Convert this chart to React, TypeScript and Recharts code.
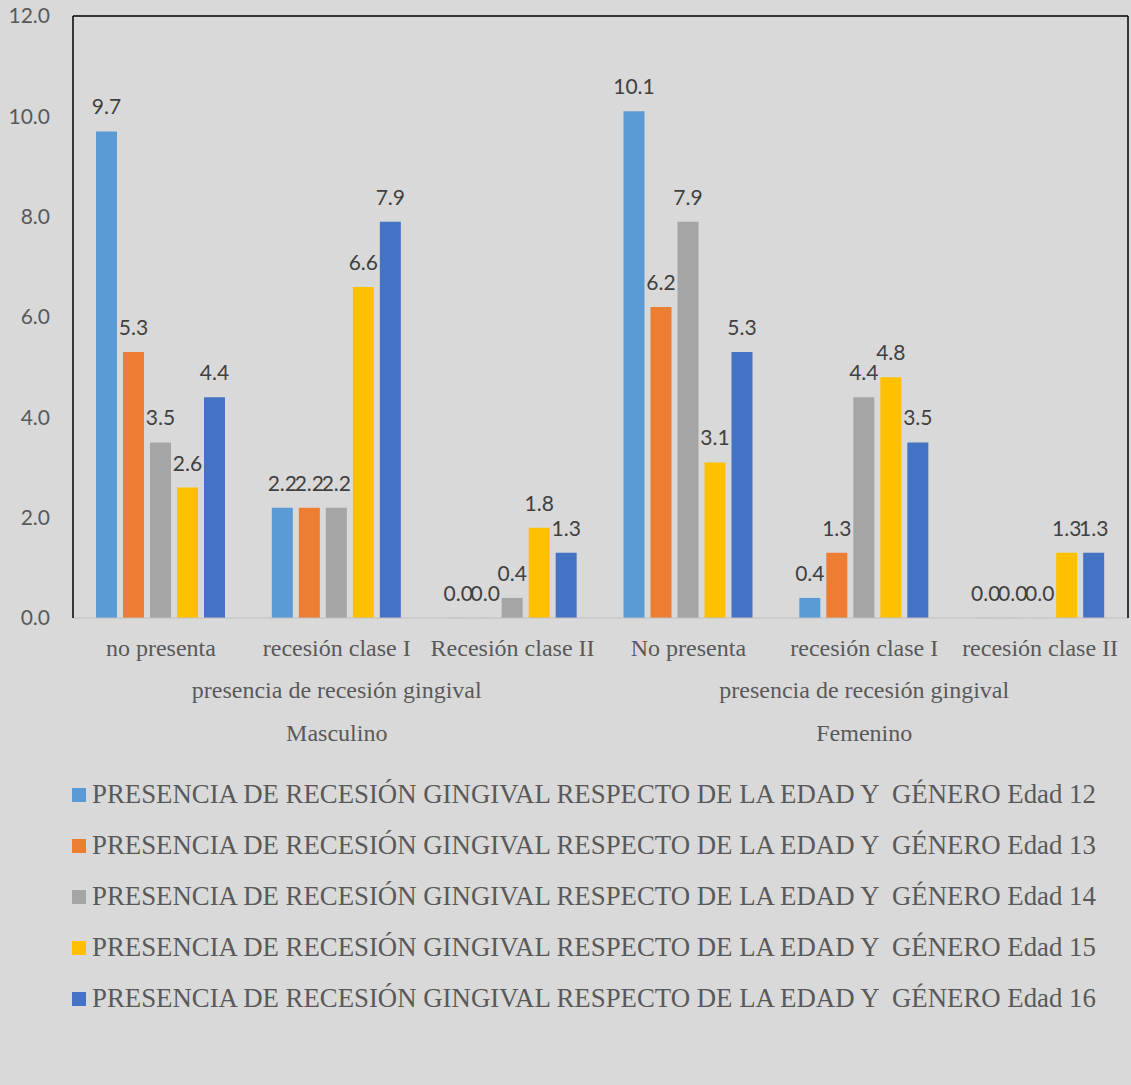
import React from "react"
import { BarChart, Bar, XAxis, YAxis, Legend, LabelList, ReferenceLine } from "recharts"

document.body.style.margin = "0"

const categories = [
  "no presenta",
  "recesión clase I",
  "Recesión clase II",
  "No presenta",
  "recesión clase I",
  "recesión clase II",
]
const groupLabel = "presencia de recesión gingival"
const genders = ["Masculino", "Femenino"]

const edad12 = [9.7, 2.2, 0.0, 10.1, 0.4, 0.0]
const edad13 = [5.3, 2.2, 0.0, 6.2, 1.3, 0.0]
const edad14 = [3.5, 2.2, 0.4, 7.9, 4.4, 0.0]
const edad15 = [2.6, 6.6, 1.8, 3.1, 4.8, 1.3]
const edad16 = [4.4, 7.9, 1.3, 5.3, 3.5, 1.3]

const seriesNames = [12, 13, 14, 15, 16].map(
  (e) => `PRESENCIA DE RECESIÓN GINGIVAL RESPECTO DE LA EDAD Y  GÉNERO Edad ${e}`
)
const seriesColors = ["#5b9bd5", "#ed7d31", "#a5a5a5", "#ffc000", "#4472c4"]
const yTicks = [0, 2, 4, 6, 8, 10, 12]

const data = categories.map((c, i) => ({
  cat: c,
  e12: edad12[i],
  e13: edad13[i],
  e14: edad14[i],
  e15: edad15[i],
  e16: edad16[i],
}))
const keys = ["e12", "e13", "e14", "e15", "e16"]

const serif = "'Liberation Serif', 'Times New Roman', serif"
const sans = "Lato, 'Open Sans', sans-serif"

function CategoryTick(props: any) {
  const { x, y, payload, index } = props
  const showGroup = index % 3 === 1
  return (
    <g>
      <text x={x} y={y + 38} textAnchor="middle" fill="#595959" fontFamily={serif} fontSize={24}>
        {payload.value}
      </text>
      {showGroup && (
        <text x={x} y={y + 80} textAnchor="middle" fill="#595959" fontFamily={serif} fontSize={24}>
          {groupLabel}
        </text>
      )}
      {showGroup && (
        <text x={x} y={y + 123} textAnchor="middle" fill="#595959" fontFamily={serif} fontSize={24}>
          {genders[Math.floor(index / 3)]}
        </text>
      )}
    </g>
  )
}

function LegendBox(props: any) {
  const items = props.payload || []
  return (
    <div>
      {items.map((it: any) => (
        <div key={it.value} style={{ display: "flex", alignItems: "center", height: 51 }}>
          <span style={{ width: 14, height: 14, background: it.color, marginRight: 6, flex: "none" }} />
          <span
            style={{
              fontFamily: serif,
              fontSize: 26.8,
              color: "#595959",
              lineHeight: "51px",
              whiteSpace: "pre",
            }}
          >
            {it.value}
          </span>
        </div>
      ))}
    </div>
  )
}

export default function App() {
  return (
    <div style={{ width: 1131, height: 1085, background: "#d9d9d9" }}>
      <BarChart
        width={1131}
        height={1085}
        data={data}
        margin={{ top: 16, right: 2, bottom: 437, left: 0 }}
        barGap={6}
        barCategoryGap={23}
      >
        <XAxis
          dataKey="cat"
          interval={0}
          height={30}
          tickLine={false}
          tickSize={0}
          tickMargin={0}
          axisLine={{ stroke: "#bfbfbf", strokeWidth: 1 }}
          tick={<CategoryTick />}
        />
        <YAxis
          domain={[0, 12]}
          ticks={yTicks}
          width={73}
          tickLine={false}
          tickSize={0}
          tickMargin={23}
          axisLine={{ stroke: "#000", strokeWidth: 1.5 }}
          tickFormatter={(v: number) => v.toFixed(1)}
          tick={{ fill: "#595959", fontSize: 21, fontFamily: sans }}
        />
        <YAxis
          yAxisId="r"
          orientation="right"
          width={1}
          domain={[0, 12]}
          tick={false}
          tickLine={false}
          axisLine={{ stroke: "#000", strokeWidth: 1.5 }}
        />
        <ReferenceLine y={12} stroke="#000" strokeWidth={1.5} />
        {keys.map((k, i) => (
          <Bar
            key={k}
            dataKey={k}
            name={seriesNames[i]}
            fill={seriesColors[i]}
            minPointSize={(v: number) => (v === 0 ? 0.1 : 0)}
            isAnimationActive={false}
          >
            <LabelList
              dataKey={k}
              position="top"
              offset={17}
              formatter={(v: any) => Number(v).toFixed(1)}
              style={{ fill: "#404040", fontSize: 21, fontFamily: sans }}
            />
          </Bar>
        ))}
        <Legend
          layout="vertical"
          align="center"
          verticalAlign="middle"
          content={<LegendBox />}
          wrapperStyle={{ position: "absolute", top: 769, left: 72, width: 1059 }}
        />
      </BarChart>
    </div>
  )
}
